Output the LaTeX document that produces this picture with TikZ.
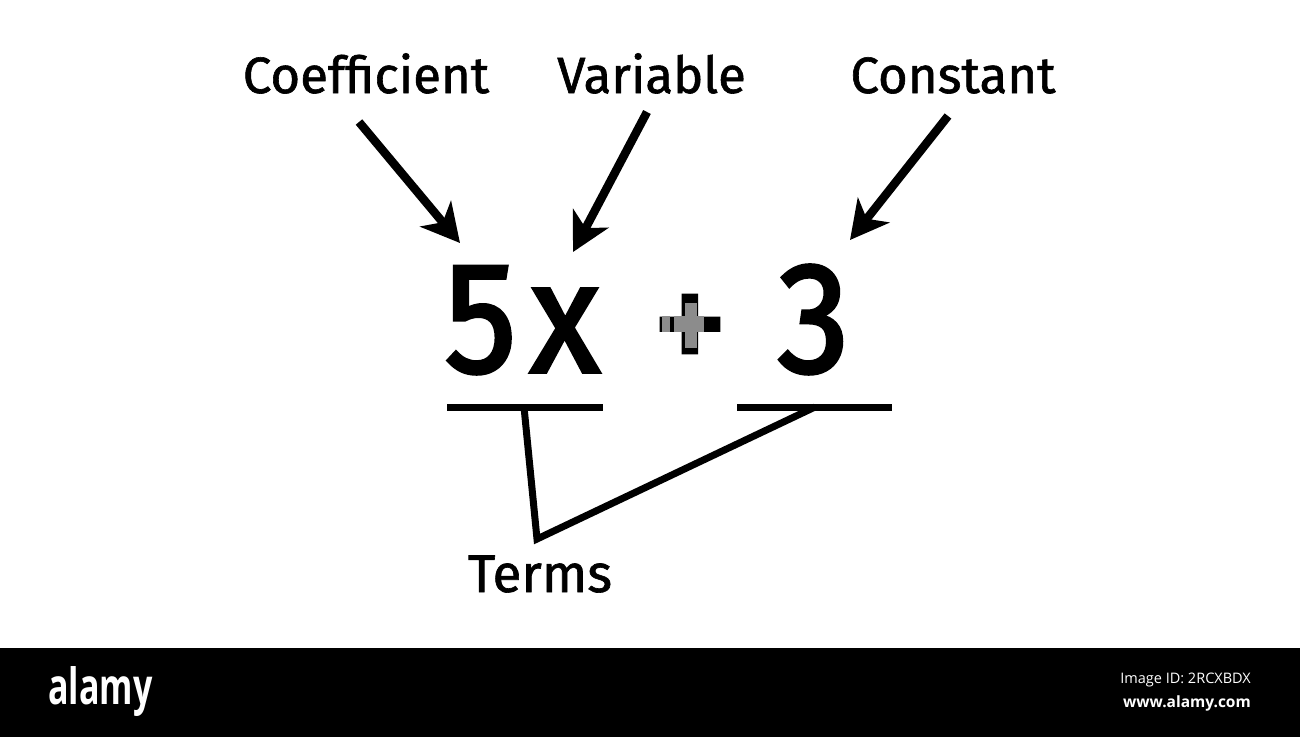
\documentclass[tikz,border=0pt]{standalone}
\usepackage{fontspec}
\setmainfont{Fira Sans}[FakeBold=1.2]
\newfontfamily\bigfont{Fira Sans}[FakeBold=2.4]
\newfontfamily\wmfont{Open Sans}
\usetikzlibrary{arrows.meta}
\tikzset{
  lbl/.style={inner sep=0pt,font=\fontsize{51}{51}\selectfont,text=black},
  big/.style={inner sep=0pt,font=\bigfont\fontsize{150}{150}\selectfont,text=black,xscale=.96,yscale=1.05},
  arrowline/.style={line width=8.5pt,-{Stealth[length=38pt,width=40pt,inset=11pt]}},
  rule/.style={line width=7pt},
  wm/.style={inner sep=0pt,text=white},
  glitch/.style={fill=black!45,draw=none}
}
\begin{document}
\begin{tikzpicture}[x=1pt,y=-1pt]
\useasboundingbox (0,0) rectangle (1300,737);
\fill[white] (0,0) rectangle (1300,737);
\fill[black] (0,648) rectangle (1300,737);
\node[lbl,anchor=base] (coef) at (366,93) {Coefficient};
\node[lbl,anchor=base] (var) at (651.5,93) {Variable};
\node[lbl,anchor=base] (const) at (953,93) {Constant};
\node[lbl,anchor=base,font=\fontsize{53}{53}\selectfont] (terms) at (540,592) {Terms};
\node[big,anchor=base] (five) at (480.5,372) {5};
\node[big,anchor=base] (ex) at (565,372) {x};
\node[big,anchor=base] (three) at (813.5,372) {3};
\node[inner sep=0pt,font=\bigfont\fontsize{152}{152}\selectfont,anchor=center] (plus) at (690,335) {+};
\fill[glitch] (662,316) rectangle (670,332);
\fill[glitch] (674,316) rectangle (704,332);
\fill[glitch] (685,303) rectangle (697,348);
\coordinate (a1s) at (359,122);
\coordinate (a1e) at (460,243);
\coordinate (a2s) at (647,112);
\coordinate (a2e) at (573,252);
\coordinate (a3s) at (948,116);
\coordinate (a3e) at (850,240);
\draw[arrowline] (a1s) -- (a1e);
\draw[arrowline] (a2s) -- (a2e);
\draw[arrowline] (a3s) -- (a3e);
\coordinate (u1l) at (447,407);
\coordinate (u1r) at (603,407);
\coordinate (u2l) at (737,407);
\coordinate (u2r) at (892,407);
\coordinate (t1) at (524,407);
\coordinate (t2) at (815,407);
\coordinate (tv) at (537,539);
\draw[rule] (u1l) -- (u1r);
\draw[rule] (u2l) -- (u2r);
\draw[rule,line join=miter] (t1) -- (tv) -- (t2);
\node[wm,font=\wmfont\bfseries\fontsize{50}{50}\selectfont,xscale=.68] (logo) at (100.5,691) {alamy};
\node[wm,anchor=east,font=\wmfont\fontsize{14.5}{14.5}\selectfont] (imgid) at (1251,680) {Image ID: 2RCXBDX};
\node[wm,anchor=east,font=\wmfont\bfseries\fontsize{15.5}{15.5}\selectfont] (www) at (1251,703) {www.alamy.com};
\end{tikzpicture}
\end{document}
